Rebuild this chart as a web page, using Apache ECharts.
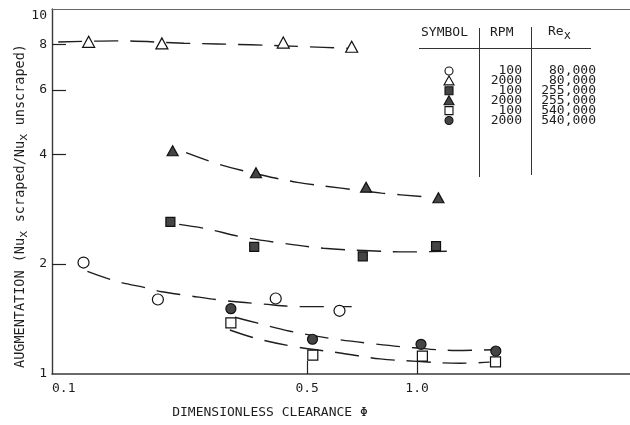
<!DOCTYPE html>
<html>
<head>
<meta charset="utf-8">
<script src="https://cdn.jsdelivr.net/npm/echarts@6/dist/echarts.min.js"></script>
<style>
  html, body { margin: 0; padding: 0; background: #fff; }
  #chart { width: 630px; height: 425px; }
</style>
</head>
<body>
<div id="chart"></div>
<script>
// Measured points: [clearance phi, augmentation]
const openCircle     = [[0.122, 2.02], [0.195, 1.60], [0.410, 1.61], [0.613, 1.49]];
const openTriangle   = [[0.126, 8.13], [0.200, 8.05], [0.430, 8.09], [0.662, 7.88]];
const filledSquare   = [[0.211, 2.61], [0.358, 2.23], [0.710, 2.10], [1.127, 2.24]];
const filledTriangle = [[0.214, 4.09], [0.362, 3.56], [0.725, 3.25], [1.144, 3.04]];
const openSquare     = [[0.309, 1.38], [0.518, 1.127], [1.034, 1.12], [1.640, 1.08]];
const filledCircle   = [[0.309, 1.51], [0.517, 1.245], [1.025, 1.206], [1.643, 1.156]];

// Faired curves through each data set
const curveOpenCircle = [[0.125, 1.91], [0.141, 1.83], [0.155, 1.78], [0.182, 1.72], [0.200, 1.68],
  [0.236, 1.64], [0.295, 1.59], [0.378, 1.555], [0.478, 1.53], [0.662, 1.53]];
const curveOpenTriangle = [[0.104, 8.12], [0.150, 8.18], [0.230, 8.06], [0.350, 7.98], [0.500, 7.88], [0.650, 7.80]];
const curveFilledSquare = [[0.223, 2.57], [0.265, 2.50], [0.327, 2.38], [0.417, 2.29], [0.554, 2.21],
  [0.714, 2.18], [0.937, 2.16], [1.206, 2.17]];
const curveFilledTriangle = [[0.233, 4.04], [0.290, 3.74], [0.370, 3.52], [0.470, 3.35], [0.620, 3.23],
  [0.800, 3.13], [1.090, 3.05]];
const curveOpenSquare = [[0.307, 1.32], [0.364, 1.25], [0.458, 1.19], [0.622, 1.14], [0.792, 1.10],
  [1.000, 1.083], [1.310, 1.07], [1.580, 1.078]];
const curveFilledCircle = [[0.317, 1.43], [0.364, 1.38], [0.449, 1.31], [0.584, 1.25], [0.758, 1.21],
  [0.978, 1.18], [1.288, 1.16], [1.620, 1.165]];

// Axis ticks and labels
const xLabelValues = [0.1, 0.5, 1.0];
const xTickValues = [0.5, 1.0];
const yLabelValues = [1, 2, 4, 6, 8, 10];
const yTickValues = [2, 4, 6, 8];

// Key table rows
const keySymbols = ['openCircle', 'openTriangle', 'filledSquare', 'filledTriangle', 'openSquare', 'filledCircle'];
const keyRpm = ['100', '2000', '100', '2000', '100', '2000'];
const keyRe = ['80,000', '80,000', '255,000', '255,000', '540,000', '540,000'];

const FONT = '"DejaVu Sans Mono", monospace';
const INK = '#1e1e1e';
const FILL = '#454545';

const markerStyles = {
  openCircle:     { symbol: 'circle',   size: 11,       fill: '#fff' },
  openTriangle:   { symbol: 'triangle', size: [12, 11], fill: '#fff' },
  filledSquare:   { symbol: 'rect',     size: 9,        fill: FILL },
  filledTriangle: { symbol: 'triangle', size: [11, 10], fill: FILL },
  openSquare:     { symbol: 'rect',     size: 10,       fill: '#fff' },
  filledCircle:   { symbol: 'circle',   size: 10,       fill: FILL }
};

function scatter(name, data) {
  const m = markerStyles[name];
  return {
    type: 'scatter', name: name, data: data, z: 5,
    symbol: m.symbol, symbolSize: m.size,
    itemStyle: { color: m.fill, borderColor: '#111', borderWidth: 1.2, opacity: 1 },
    emphasis: { disabled: true }
  };
}

function curve(data) {
  return {
    type: 'line', data: data, showSymbol: false, smooth: 0.35, z: 3,
    lineStyle: { color: INK, width: 1.4, type: [24, 12] },
    emphasis: { disabled: true }
  };
}

// Key table drawn as graphic elements
const keyGraphics = [];
const headY = 33;
keyGraphics.push({ type: 'text', left: 421, top: headY - 7,
  style: { text: 'SYMBOL', font: '13px ' + FONT, fill: INK } });
keyGraphics.push({ type: 'text', left: 490, top: headY - 7,
  style: { text: 'RPM', font: '13px ' + FONT, fill: INK } });
keyGraphics.push({ type: 'text', x: 548, y: 22,
  style: { text: '{a|Re}{s|x}', fill: INK,
    rich: { a: { fontFamily: FONT, fontSize: 13, lineHeight: 20, verticalAlign: 'middle', fill: INK },
            s: { fontFamily: FONT, fontSize: 12, lineHeight: 12, verticalAlign: 'bottom', fill: INK } } } });
keyGraphics.push({ type: 'line', shape: { x1: 419, y1: 48.5, x2: 591, y2: 48.5 },
  style: { stroke: '#333', lineWidth: 1.2 } });
keyGraphics.push({ type: 'line', shape: { x1: 479.5, y1: 28, x2: 479.5, y2: 177 },
  style: { stroke: '#333', lineWidth: 1 } });
keyGraphics.push({ type: 'line', shape: { x1: 531.5, y1: 27, x2: 531.5, y2: 175 },
  style: { stroke: '#333', lineWidth: 1 } });

keySymbols.forEach(function (k, i) {
  const cy = 71 + i * 9.9;
  const cx = 449;
  const m = markerStyles[k];
  const st = { fill: m.fill, stroke: '#111', lineWidth: 1.1 };
  if (k === 'openCircle' || k === 'filledCircle') {
    keyGraphics.push({ type: 'circle', shape: { cx: cx, cy: cy, r: 4 }, style: st });
  } else if (k === 'openTriangle' || k === 'filledTriangle') {
    keyGraphics.push({ type: 'polygon', shape: { points: [[cx, cy - 5], [cx + 5, cy + 4], [cx - 5, cy + 4]] }, style: st });
  } else {
    keyGraphics.push({ type: 'rect', shape: { x: cx - 4, y: cy - 4, width: 8, height: 8 }, style: st });
  }
  keyGraphics.push({ type: 'text', x: 522, y: cy,
    style: { text: keyRpm[i], font: '13px ' + FONT, fill: INK, align: 'right', verticalAlign: 'middle' } });
  keyGraphics.push({ type: 'text', x: 596, y: cy,
    style: { text: keyRe[i], font: '13px ' + FONT, fill: INK, align: 'right', verticalAlign: 'middle' } });
});

// Axis titles
keyGraphics.push({ type: 'text', x: 270, y: 413,
  style: { text: 'DIMENSIONLESS CLEARANCE \u03a6', font: '13px ' + FONT, fill: INK,
           align: 'center', verticalAlign: 'middle' } });
keyGraphics.push({ type: 'text', x: 20, y: 206, rotation: Math.PI / 2,
  style: { text: '{a|AUGMENTATION (Nu}{s|x}{a| scraped/Nu}{s|x}{a| unscraped)}',
    align: 'center', verticalAlign: 'middle', fill: INK,
    rich: { a: { fontFamily: FONT, fontSize: 13.5, lineHeight: 20, verticalAlign: 'middle', fill: INK },
            s: { fontFamily: FONT, fontSize: 12.5, lineHeight: 12, verticalAlign: 'bottom', fill: INK } } } });

const chart = echarts.init(document.getElementById('chart'), null, { renderer: 'canvas' });
chart.setOption({
  animation: false,
  backgroundColor: '#fff',
  grid: { left: 52, right: 0, top: 9, bottom: 51, containLabel: false },
  xAxis: [{
    type: 'log', logBase: 10, min: 0.1, max: 3.83,
    axisLine: { show: true, lineStyle: { color: '#3a3a3a', width: 1.6 } },
    axisTick: { show: true, inside: true, length: 13, customValues: xTickValues,
                lineStyle: { color: '#222', width: 1.2 } },
    axisLabel: { customValues: xLabelValues, margin: 8, color: INK, fontFamily: FONT, fontSize: 13,
                 alignMinLabel: 'left',
                 formatter: function (v) { return Number(v).toFixed(1); } },
    splitLine: { show: false }, minorTick: { show: false }
  }, {
    type: 'log', logBase: 10, min: 0.1, max: 3.83, position: 'top',
    axisLine: { show: true, lineStyle: { color: '#666', width: 1.1 } },
    axisTick: { show: false }, axisLabel: { show: false }, splitLine: { show: false }
  }],
  yAxis: {
    type: 'log', logBase: 10, min: 1, max: 10,
    axisLine: { show: true, lineStyle: { color: '#3a3a3a', width: 1.4 } },
    axisTick: { show: true, inside: true, length: 14, customValues: yTickValues,
                lineStyle: { color: '#222', width: 1.2 } },
    axisLabel: { customValues: yLabelValues, margin: 5, color: INK, fontFamily: FONT, fontSize: 13,
                 verticalAlignMaxLabel: 'top' },
    splitLine: { show: false }, minorTick: { show: false }
  },
  graphic: keyGraphics,
  series: [
    curve(curveOpenCircle), curve(curveOpenTriangle), curve(curveFilledSquare),
    curve(curveFilledTriangle), curve(curveOpenSquare), curve(curveFilledCircle),
    scatter('openCircle', openCircle), scatter('openTriangle', openTriangle),
    scatter('filledSquare', filledSquare), scatter('filledTriangle', filledTriangle),
    scatter('openSquare', openSquare), scatter('filledCircle', filledCircle)
  ]
});
</script>
</body>
</html>
